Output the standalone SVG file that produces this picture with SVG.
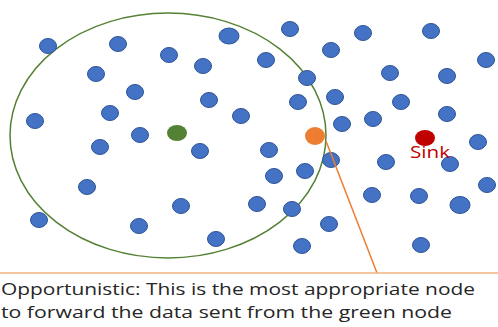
<svg xmlns="http://www.w3.org/2000/svg" width="498" height="327" viewBox="0 0 498 327">
<style>
.n{fill:#4472c4;stroke:#2f5597;stroke-width:1}
.t{font-family:"Open Sans","Liberation Sans",sans-serif;font-size:17px;fill:#262626}
</style>
<rect width="498" height="327" fill="#fff"/>
<ellipse id="range" cx="168" cy="135.5" rx="158" ry="122.5" fill="none" stroke="#548235" stroke-width="1.5"/>
<g id="nodes">
<ellipse class="n" cx="48" cy="46" rx="8.5" ry="7.5"/>
<ellipse class="n" cx="118" cy="44" rx="8.5" ry="7.5"/>
<ellipse class="n" cx="169" cy="55" rx="8.5" ry="7.5"/>
<ellipse class="n" cx="229" cy="36" rx="10" ry="8"/>
<ellipse class="n" cx="203" cy="66" rx="8.5" ry="7.5"/>
<ellipse class="n" cx="96" cy="74" rx="8.5" ry="7.5"/>
<ellipse class="n" cx="135" cy="92" rx="8.5" ry="7.5"/>
<ellipse class="n" cx="209" cy="100" rx="8.5" ry="7.5"/>
<ellipse class="n" cx="110" cy="113" rx="8.5" ry="7.5"/>
<ellipse class="n" cx="241" cy="116" rx="8.5" ry="7.5"/>
<ellipse class="n" cx="35" cy="121" rx="8.5" ry="7.5"/>
<ellipse class="n" cx="140" cy="135" rx="8.5" ry="7.5"/>
<ellipse class="n" cx="100" cy="147" rx="8.5" ry="7.5"/>
<ellipse class="n" cx="200" cy="151" rx="8.5" ry="7.5"/>
<ellipse class="n" cx="87" cy="187" rx="8.5" ry="7.5"/>
<ellipse class="n" cx="181" cy="206" rx="8.5" ry="7.5"/>
<ellipse class="n" cx="139" cy="226" rx="8.5" ry="7.5"/>
<ellipse class="n" cx="216" cy="239" rx="8.5" ry="7.5"/>
<ellipse class="n" cx="39" cy="220" rx="8.5" ry="7.5"/>
<ellipse class="n" cx="257" cy="204" rx="8.5" ry="7.5"/>
<ellipse class="n" cx="266" cy="60" rx="8.5" ry="7.5"/>
<ellipse class="n" cx="290" cy="29" rx="8.5" ry="7.5"/>
<ellipse class="n" cx="331" cy="50" rx="8.5" ry="7.5"/>
<ellipse class="n" cx="307" cy="78" rx="8.5" ry="7.5"/>
<ellipse class="n" cx="298" cy="102" rx="8.5" ry="7.5"/>
<ellipse class="n" cx="335" cy="97" rx="8.5" ry="7.5"/>
<ellipse class="n" cx="342" cy="124" rx="8.5" ry="7.5"/>
<ellipse class="n" cx="363" cy="33" rx="8.5" ry="7.5"/>
<ellipse class="n" cx="390" cy="73" rx="8.5" ry="7.5"/>
<ellipse class="n" cx="373" cy="119" rx="8.5" ry="7.5"/>
<ellipse class="n" cx="401" cy="102" rx="8.5" ry="7.5"/>
<ellipse class="n" cx="431" cy="31" rx="8.5" ry="7.5"/>
<ellipse class="n" cx="447" cy="76" rx="8.5" ry="7.5"/>
<ellipse class="n" cx="447" cy="114" rx="8.5" ry="7.5"/>
<ellipse class="n" cx="486" cy="60" rx="8.5" ry="7.5"/>
<ellipse class="n" cx="269" cy="150" rx="8.5" ry="7.5"/>
<ellipse class="n" cx="274" cy="176" rx="8.5" ry="7.5"/>
<ellipse class="n" cx="305" cy="171" rx="8.5" ry="7.5"/>
<ellipse class="n" cx="331" cy="160" rx="8.5" ry="7.5"/>
<ellipse class="n" cx="292" cy="209" rx="8.5" ry="7.5"/>
<ellipse class="n" cx="329" cy="224" rx="8.5" ry="7.5"/>
<ellipse class="n" cx="302" cy="246" rx="8.5" ry="7.5"/>
<ellipse class="n" cx="386" cy="162" rx="8.5" ry="7.5"/>
<ellipse class="n" cx="372" cy="195" rx="8.5" ry="7.5"/>
<ellipse class="n" cx="419" cy="196" rx="8.5" ry="7.5"/>
<ellipse class="n" cx="421" cy="245" rx="8.5" ry="7.5"/>
<ellipse class="n" cx="450" cy="164" rx="8.5" ry="7.5"/>
<ellipse class="n" cx="460" cy="205" rx="10" ry="8.5"/>
<ellipse class="n" cx="478" cy="142" rx="8.5" ry="7.5"/>
<ellipse class="n" cx="487" cy="185" rx="8.5" ry="7.5"/>
</g>
<g id="source"><ellipse cx="177" cy="133" rx="10" ry="8" fill="#548235"/></g>
<g id="sink"><ellipse cx="425" cy="138" rx="10" ry="8" fill="#c00000"/>
<text x="410" y="158" font-family="Open Sans, Liberation Sans, sans-serif" font-size="17" fill="#c00000" textLength="40" lengthAdjust="spacingAndGlyphs">Sink</text></g>
<g id="connectors">
<line x1="326" y1="141" x2="377" y2="273" stroke="#ed7d31" stroke-width="1.5"/>
<line x1="0" y1="273" x2="498" y2="273" stroke="#f4b183" stroke-width="1.5"/>
</g>
<g id="relay"><ellipse cx="315" cy="136" rx="10" ry="9" fill="#ed7d31"/></g>
<g id="callout">
<text class="t" x="1" y="295" textLength="474" lengthAdjust="spacingAndGlyphs">Opportunistic: This is the most appropriate node</text>
<text class="t" x="1" y="318" textLength="451" lengthAdjust="spacingAndGlyphs">to forward the data sent  from the green node</text>
</g>
</svg>
